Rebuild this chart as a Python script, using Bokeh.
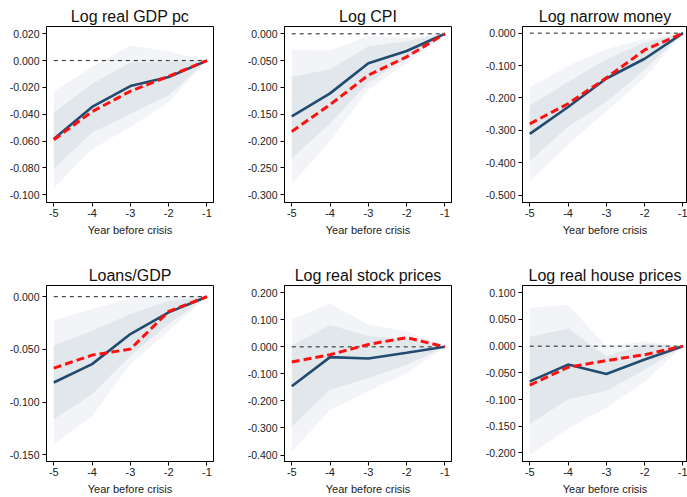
from bokeh.plotting import figure
from bokeh.models import FixedTicker, NumeralTickFormatter, Range1d
from bokeh.layouts import gridplot
from bokeh.embed import file_html
from bokeh.resources import INLINE

# ---------------- data ----------------
years = [-5, -4, -3, -2, -1]
x_tick_labels = ["-5", "-4", "-3", "-2", "-1"]

titles = ["Log real GDP pc", "Log CPI", "Log narrow money",
          "Loans/GDP", "Log real stock prices", "Log real house prices"]

# Log real GDP pc
gdp_mean = [-0.0584, -0.0345, -0.0190, -0.0122, 0.0]
gdp_alt = [-0.0589, -0.0380, -0.0228, -0.0117, 0.0]
gdp_in_hi = [-0.0385, -0.0175, -0.0013, -0.0006, 0.0]
gdp_in_lo = [-0.0805, -0.0535, -0.0395, -0.0260, 0.0]
gdp_out_hi = [-0.0230, -0.0045, 0.0112, 0.0068, 0.0]
gdp_out_lo = [-0.0950, -0.0660, -0.0495, -0.0310, 0.0]
gdp_ticks = [0.02, 0.0, -0.02, -0.04, -0.06, -0.08, -0.1]

# Log CPI
cpi_mean = [-0.154, -0.111, -0.055, -0.032, 0.0]
cpi_alt = [-0.182, -0.132, -0.077, -0.043, 0.0]
cpi_in_hi = [-0.080, -0.066, -0.023, -0.014, 0.0]
cpi_in_lo = [-0.232, -0.167, -0.091, -0.046, 0.0]
cpi_out_hi = [-0.030, -0.031, -0.004, -0.008, 0.0]
cpi_out_lo = [-0.280, -0.200, -0.104, -0.055, 0.0]
cpi_ticks = [0.0, -0.05, -0.1, -0.15, -0.2, -0.25, -0.3]

# Log narrow money
money_mean = [-0.311, -0.228, -0.140, -0.079, 0.0]
money_alt = [-0.280, -0.218, -0.138, -0.052, 0.0]
money_in_hi = [-0.224, -0.151, -0.081, -0.029, 0.0]
money_in_lo = [-0.396, -0.288, -0.213, -0.112, 0.0]
money_out_hi = [-0.167, -0.101, -0.050, -0.017, 0.0]
money_out_lo = [-0.458, -0.345, -0.241, -0.138, 0.0]
money_ticks = [0.0, -0.1, -0.2, -0.3, -0.4, -0.5]

# Loans/GDP
loans_mean = [-0.0813, -0.0639, -0.0354, -0.0149, 0.0]
loans_alt = [-0.0677, -0.0554, -0.0497, -0.0139, 0.0]
loans_in_hi = [-0.0465, -0.0323, -0.0165, -0.0038, 0.0]
loans_in_lo = [-0.1161, -0.0924, -0.0560, -0.0260, 0.0]
loans_out_hi = [-0.0222, -0.0117, -0.0013, 0.0, 0.0]
loans_out_lo = [-0.1399, -0.1130, -0.0639, -0.0323, 0.0]
loans_ticks = [0.0, -0.05, -0.1, -0.15]

# Log real stock prices
stock_mean = [-0.146, -0.038, -0.043, -0.022, 0.0]
stock_alt = [-0.056, -0.029, 0.009, 0.034, 0.0]
stock_in_hi = [0.005, 0.081, 0.040, 0.027, 0.0]
stock_in_lo = [-0.295, -0.159, -0.115, -0.066, 0.0]
stock_out_hi = [0.102, 0.160, 0.083, 0.058, 0.0]
stock_out_lo = [-0.388, -0.233, -0.165, -0.097, 0.0]
stock_ticks = [0.2, 0.1, 0.0, -0.1, -0.2, -0.3, -0.4]

# Log real house prices
house_mean = [-0.066, -0.0345, -0.052, -0.025, 0.0]
house_alt = [-0.073, -0.0395, -0.027, -0.016, 0.0]
house_in_hi = [0.017, 0.033, -0.019, 0.004, 0.0]
house_in_lo = [-0.146, -0.100, -0.0835, -0.044, 0.0]
house_out_hi = [0.072, 0.077, 0.000, 0.009, 0.0]
house_out_lo = [-0.204, -0.154, -0.116, -0.066, 0.0]
house_ticks = [0.1, 0.05, 0.0, -0.05, -0.1, -0.15, -0.2]

zero_line = [0.0, 0.0, 0.0, 0.0, 0.0]

# ---------------- style ----------------
FONT = "Liberation Sans"
NAVY = "#224b70"
RED = "#ff1010"
INNER = "#e2e7ec"
OUTER = "#f2f4f7"

panels = [
    (gdp_mean, gdp_alt, gdp_in_lo, gdp_in_hi, gdp_out_lo, gdp_out_hi, gdp_ticks, (-0.1057, 0.0254)),
    (cpi_mean, cpi_alt, cpi_in_lo, cpi_in_hi, cpi_out_lo, cpi_out_hi, cpi_ticks, (-0.3143, 0.0136)),
    (money_mean, money_alt, money_in_lo, money_in_hi, money_out_lo, money_out_hi, money_ticks, (-0.523, 0.0205)),
    (loans_mean, loans_alt, loans_in_lo, loans_in_hi, loans_out_lo, loans_out_hi, loans_ticks, (-0.1562, 0.0106)),
    (stock_mean, stock_alt, stock_in_lo, stock_in_hi, stock_out_lo, stock_out_hi, stock_ticks, (-0.424, 0.2268)),
    (house_mean, house_alt, house_in_lo, house_in_hi, house_out_lo, house_out_hi, house_ticks, (-0.216, 0.1136)),
]


def make(i):
    mean, alt, in_lo, in_hi, out_lo, out_hi, yticks, yr = panels[i]
    row, col = divmod(i, 3)
    fw = 167 if col < 2 else 165
    x0 = -5.19
    x1 = x0 + fw / 38.3
    p = figure(
        frame_width=fw, frame_height=176,
        x_range=Range1d(x0, x1), y_range=Range1d(*yr),
        output_backend="svg", toolbar_location=None,
        min_border_left=46, min_border_right=(25 if col < 2 else 0),
        min_border_top=(26 if row == 0 else 35),
        min_border_bottom=(48 if row == 0 else 36),
        title=titles[i],
    )
    p.background_fill_color = "white"
    p.border_fill_color = "white"
    p.outline_line_color = "black"
    p.outline_line_width = 1
    p.xgrid.visible = False
    p.ygrid.visible = False

    p.title.text_font = FONT
    p.title.text_font_size = "16px"
    p.title.text_font_style = "normal"
    p.title.text_color = "#111111"
    p.title.align = "center"
    p.title.standoff = 4

    p.xaxis.ticker = FixedTicker(ticks=years)
    p.xaxis.major_label_overrides = {y: lab for y, lab in zip(years, x_tick_labels)}
    p.yaxis.ticker = FixedTicker(ticks=yticks)
    p.yaxis.formatter = NumeralTickFormatter(format="0.000")
    p.xaxis.axis_label = "Year before crisis"
    for ax in (p.xaxis, p.yaxis):
        ax.axis_line_color = "black"
        ax.major_tick_line_color = "black"
        ax.minor_tick_line_color = None
        ax.major_tick_in = 0
        ax.major_tick_out = 4
        ax.major_label_text_font = FONT
        ax.major_label_text_color = "#222222"
        ax.major_label_standoff = 3
    p.yaxis.major_label_text_font_size = "10.5px"
    p.xaxis.major_label_text_font_size = "11px"
    p.xaxis.major_label_standoff = 2
    p.xaxis.axis_label_text_font = FONT
    p.xaxis.axis_label_text_font_size = "11px"
    p.xaxis.axis_label_text_font_style = "normal"
    p.xaxis.axis_label_text_color = "#222222"
    p.xaxis.axis_label_standoff = 4

    p.varea(x=years, y1=out_lo, y2=out_hi, fill_color=OUTER)
    p.varea(x=years, y1=in_lo, y2=in_hi, fill_color=INNER)
    p.line(years, zero_line, line_color="#222222", line_width=1, line_dash="4 4")
    p.line(years, mean, line_color=NAVY, line_width=2.6)
    p.line(years, alt, line_color=RED, line_width=3, line_dash="8 4")
    return p


figs = [make(i) for i in range(6)]
grid = gridplot([figs[0:3], figs[3:6]], toolbar_location=None)

open("out.html", "w").write(file_html(grid, INLINE))
